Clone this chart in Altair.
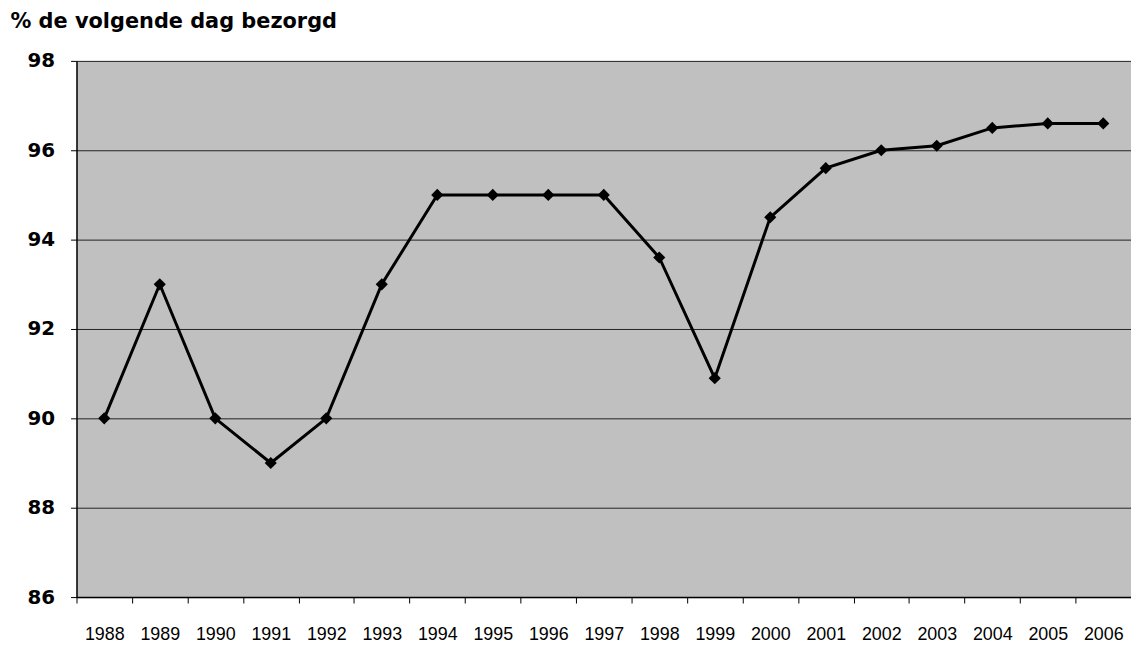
import altair as alt
import pandas as pd

years = [str(y) for y in range(1988, 2007)]
values = [90, 93, 90, 89, 90, 93, 95, 95, 95, 95, 93.6, 90.9, 94.5, 95.6, 96, 96.1, 96.5, 96.6, 96.6]
y_ticks = [86, 88, 90, 92, 94, 96, 98]

df = pd.DataFrame({"year": years, "value": values})

x = alt.X(
    "year:O",
    sort=years,
    scale=alt.Scale(type="band", paddingInner=0, paddingOuter=0),
    axis=alt.Axis(
        title=None,
        labelAngle=0,
        labelFont="Liberation Sans",
        labelFontSize=18,
        labelColor="black",
        labelPadding=23,
        labelBaseline="top",
        tickBand="extent",
        tickSize=6,
        tickColor="black",
        domainColor="black",
        domainWidth=1.5,
        grid=False,
    ),
)
y = alt.Y(
    "value:Q",
    scale=alt.Scale(domain=[86, 98], zero=False, nice=False),
    axis=alt.Axis(
        values=y_ticks,
        title="% de volgende dag bezorgd",
        titleAngle=0,
        titleAlign="left",
        titleBaseline="middle",
        titleX=-67,
        titleY=-40,
        titleFont="DejaVu Sans",
        titleFontSize=21,
        titleFontWeight="bold",
        titleColor="black",
        labelFont="DejaVu Sans",
        labelFontSize=20,
        labelFontWeight="bold",
        labelColor="black",
        labelPadding=16,
        tickSize=6,
        tickColor="black",
        domainColor="black",
        domainWidth=1.5,
        grid=True,
        gridColor="#222222",
        gridWidth=1,
    ),
)

base = alt.Chart(df)
line = base.mark_line(color="black", strokeWidth=3).encode(x=x, y=y)
pts = base.mark_point(shape="diamond", filled=True, color="black", size=150, opacity=1).encode(x=x, y=y)

chart = (
    alt.layer(line, pts)
    .properties(
        width=1062,
        height=540,
        autosize=alt.AutoSizeParams(type="none"),
        padding={"left": 69, "top": 51, "right": 0, "bottom": 46},
    )
    .configure(background="white")
    .configure_view(fill="#C0C0C0", stroke=None)
)

chart.save("out.html", embed_options={"renderer": "svg", "actions": False})
